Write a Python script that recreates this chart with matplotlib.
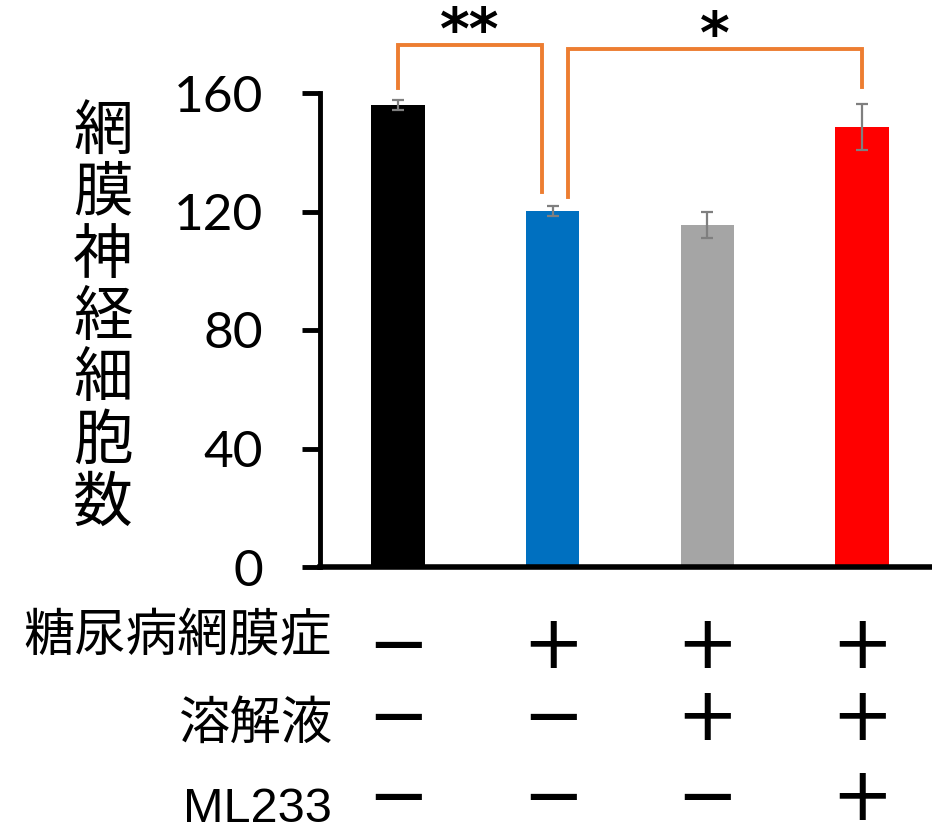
import matplotlib.pyplot as plt
import matplotlib.transforms as mtransforms


values = [155.9, 120.2, 115.4, 148.5]
errors = [1.7, 1.7, 4.4, 7.8]
colors = ['#000000', '#0070C0', '#A5A5A5', '#FF0000']

row_labels = ['糖尿病網膜症', '溶解液', 'ML233']
signs = [['−', '+', '+', '+'],
         ['−', '−', '+', '+'],
         ['−', '−', '−', '+']]

ylabel = '網膜神経細胞数'
yticks = [0, 40, 80, 120, 160]

# (left bar, right bar, stars, bracket top)
sig_pairs = [(0, 1, '**', 176.2), (1, 3, '*', 174.9)]

fig = plt.figure(figsize=(9.32, 8.35), dpi=100)
ax = fig.add_axes([320/932, 1-567/835, (932-320)/932, (567-93)/835])

x = range(len(values))
ax.bar(x, values, width=0.345, color=colors, zorder=2)
ax.errorbar(x, values, yerr=errors, fmt='none', ecolor='#7F7F7F',
            elinewidth=1.6, capsize=4.5, capthick=1.6, zorder=3)

ax.set_xlim(-0.504, 3.453)
ax.set_ylim(0, 160)
ax.set_yticks(yticks)
ax.set_xticks([])
for s in ['top', 'right']:
    ax.spines[s].set_visible(False)
ax.spines['left'].set_linewidth(3.5)
ax.spines['bottom'].set_linewidth(4)
ax.tick_params(axis='y', direction='out', length=13, width=3.5, pad=28,
               labelsize=37)
for lab in ax.get_yticklabels():
    lab.set_fontfamily('Lato')

# significance brackets
orange = '#ED7D31'
offs = {0: (0.0, 4.0), 1: (-0.07, 4.7), 3: (0.0, 5.7)}
for i, j, stars, top in sig_pairs:
    xi = i + (0.0 if i != 1 else 0.097)
    yi = values[i] + errors[i] + (4.0 if i == 0 else 3.0)
    xj = j + offs[j][0]
    yj = values[j] + errors[j] + offs[j][1]
    ax.plot([xi, xi, xj, xj], [yi, top, top, yj], color=orange, lw=2.8,
            clip_on=False, solid_joinstyle='miter', zorder=4)
    ax.text((xi + xj) / 2, top - 1.5, stars, ha='center', va='baseline',
            fontsize=41, fontweight='bold', family='DejaVu Sans')

# y label, one character per line
fig.text(103/932, 1-318/835, '\n'.join(ylabel), ha='center', va='center',
         fontsize=43, family='Noto Sans CJK JP', linespacing=1.02)

# condition table under the bars
trans = mtransforms.blended_transform_factory(ax.transData, fig.transFigure)
row_y = [1-648/835, 1-720/835, 1-800/835]
label_y = [1-637/835, 1-724/835, 1-810/835]
for r, lab in enumerate(row_labels):
    fam = 'Noto Sans CJK JP' if r < 2 else 'Liberation Sans'
    fig.text(332/932, label_y[r], lab, ha='right', va='center',
             fontsize=37 if r < 2 else 35, family=fam)
    for c, s in enumerate(signs[r]):
        ax.text(c, row_y[r], s, transform=trans, ha='center', va='center',
                fontsize=53, family='DejaVu Sans')

fig.savefig('out.png', dpi=100)
